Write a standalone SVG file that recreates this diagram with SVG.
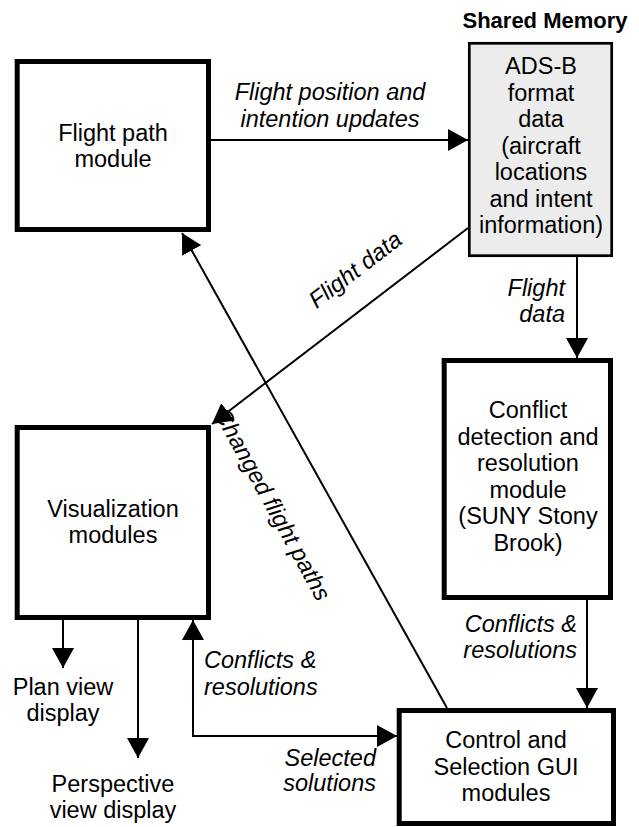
<svg xmlns="http://www.w3.org/2000/svg" width="639" height="827" viewBox="0 0 639 827">
<style>
text{font-family:"Liberation Sans",Arial,sans-serif;font-size:23.5px;fill:#000}
.box{fill:#fff;stroke:#000;stroke-width:5}
.mem{fill:#ececec;stroke:#000;stroke-width:2.7}
.lbl{font-style:italic}
.title{font-weight:bold;font-size:22px}
.c{fill:none;stroke:#000;stroke-width:2}
</style>
<defs>
<marker id="ah" viewBox="0 0 20 22" refX="20" refY="11" markerWidth="20" markerHeight="22" markerUnits="userSpaceOnUse" orient="auto-start-reverse">
<path d="M0,0 L20,11 L0,22 z" fill="#000"/>
</marker>
</defs>
<text class="title" x="545" y="28" text-anchor="middle">Shared Memory</text>
<g id="flight-path">
<rect class="box" x="17.2" y="61.5" width="191.3" height="168"/>
<text x="113" y="140.5" text-anchor="middle">Flight path<tspan x="113" dy="26.5">module</tspan></text>
</g>
<g id="adsb">
<rect class="mem" x="469.3" y="43.3" width="142.4" height="212.4"/>
<text x="541" y="74" text-anchor="middle">ADS-B<tspan x="541" dy="26.5">format</tspan><tspan x="541" dy="26.5">data</tspan><tspan x="541" dy="26.5">(aircraft</tspan><tspan x="541" dy="26.5">locations</tspan><tspan x="541" dy="26.5">and intent</tspan><tspan x="541" dy="26.5">information)</tspan></text>
</g>
<g id="conflict">
<rect class="box" x="444.2" y="360.5" width="166.3" height="237"/>
<text x="528" y="418.3" text-anchor="middle">Conflict<tspan x="528" dy="26.5">detection and</tspan><tspan x="528" dy="26.5">resolution</tspan><tspan x="528" dy="26.5">module</tspan><tspan x="528" dy="26.5">(SUNY Stony</tspan><tspan x="528" dy="26.5">Brook)</tspan></text>
</g>
<g id="visualization">
<rect class="box" x="17.2" y="427.5" width="191.3" height="190"/>
<text x="113" y="516.5" text-anchor="middle">Visualization<tspan x="113" dy="26.5">modules</tspan></text>
</g>
<g id="control">
<rect class="box" x="399.2" y="710.5" width="214.3" height="113"/>
<text x="506" y="748" text-anchor="middle">Control and<tspan x="506" dy="26.5">Selection GUI</tspan><tspan x="506" dy="26.5">modules</tspan></text>
</g>
<g id="plan-view">
<text x="63" y="695" text-anchor="middle">Plan view<tspan x="63" dy="26">display</tspan></text>
</g>
<g id="perspective-view">
<text x="113" y="792" text-anchor="middle">Perspective<tspan x="113" dy="25.5">view display</tspan></text>
</g>
<g id="labels" class="lbl">
<text class="lbl" x="330" y="100" text-anchor="middle">Flight position and<tspan x="330" dy="27">intention updates</tspan></text>
<text class="lbl" transform="translate(360,276) rotate(-37.4)" text-anchor="middle">Flight data</text>
<text class="lbl" transform="translate(265.5,508) rotate(61.2)" text-anchor="middle">Changed flight paths</text>
<text class="lbl" x="565" y="296" text-anchor="end">Flight<tspan x="565" dy="26">data</tspan></text>
<text class="lbl" x="577" y="632" text-anchor="end">Conflicts &amp;<tspan x="577" dy="26">resolutions</tspan></text>
<text class="lbl" x="204" y="668" text-anchor="start">Conflicts &amp;<tspan x="204" dy="27">resolutions</tspan></text>
<text class="lbl" x="376" y="766" text-anchor="end">Selected<tspan x="376" dy="25">solutions</tspan></text>
</g>
<g id="connectors">
<line class="c" x1="211" y1="140" x2="468" y2="140" marker-end="url(#ah)"/>
<line class="c" x1="468" y1="228" x2="212" y2="424" marker-end="url(#ah)"/>
<line class="c" x1="577" y1="257" x2="577" y2="358" marker-end="url(#ah)"/>
<line class="c" x1="587" y1="600" x2="587" y2="708" marker-end="url(#ah)"/>
<line class="c" x1="447" y1="708" x2="182" y2="233" marker-end="url(#ah)"/>
<line class="c" x1="63" y1="620" x2="63" y2="668" marker-end="url(#ah)"/>
<line class="c" x1="138" y1="620" x2="138" y2="758" marker-end="url(#ah)"/>
<path class="c" d="M193,620 V736 H397" marker-start="url(#ah)" marker-end="url(#ah)"/>
</g>
</svg>
